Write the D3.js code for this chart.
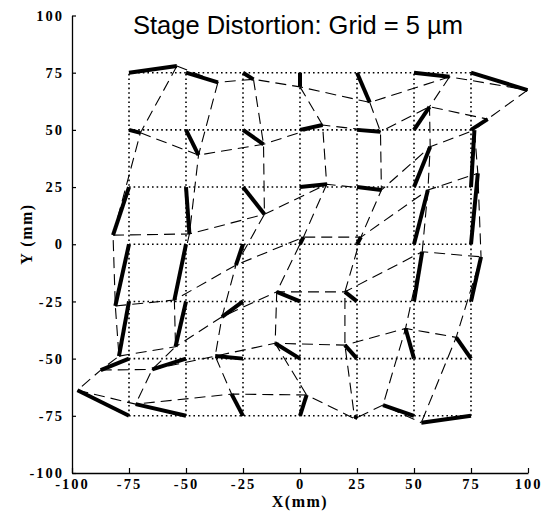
<!DOCTYPE html>
<html>
<head>
<meta charset="utf-8">
<script src="https://cdn.jsdelivr.net/npm/d3@7"></script>
<style>
  body { margin: 0; background: #fff; }
  .tick text { font-family: "Liberation Serif", "DejaVu Serif", serif; font-weight: bold; font-size: 14.5px; letter-spacing: 2px; }
</style>
</head>
<body>
<div id="chart"></div>
<script>
// nominal stage grid positions (mm)
const gridPos = [-75, -50, -25, 0, 25, 50, 75];
const tickValues = [-100, -75, -50, -25, 0, 25, 50, 75, 100];

// measured (magnified) positions, one row per nominal Y (75 down to -75), columns X = -75..75
const rowY = [75, 50, 25, 0, -25, -50, -75];
const dispX = [
  [-54, -36, -20.4, 0, 30.6, 65.6, 99.8],
  [-70, -44.5, -16, 9.9, 35.3, 56.8, 82.3],
  [-82, -48.5, -15.6, 11.7, 35.7, 57.1, 76.5],
  [-81, -55.1, -28.1, 1.5, 26.7, 56.1, 78],
  [-79.4, -54.6, -34.2, -10.2, 19.7, 53.6, 79.4],
  [-87.4, -64.8, -37.2, -10.9, 19.7, 46.3, 68.5],
  [-97.6, -72.1, -30, 2.9, 24, 36.4, 53.2]
];
const dispY = [
  [77.9, 70.8, 72.1, 68.8, 62, 73.2, 67.4],
  [48.7, 39, 43.7, 52.1, 49.2, 60.1, 54.7],
  [4, 4.5, 13.1, 26.2, 23.7, 42.6, 49.9],
  [-27, -24.4, -9.1, 3.1, 3.1, 23.7, 31],
  [-48.9, -44.8, -31.7, -20.8, -20.8, -3.3, -5.5],
  [-55, -54.7, -48.9, -43.3, -44.1, -36.8, -40.7],
  [-63.8, -69.9, -65.5, -65.9, -76.3, -70.3, -78]
];

const width = 546, height = 524;

const svg = d3.select("#chart")
    .append("svg")
    .attr("width", width)
    .attr("height", height);

const x = d3.scaleLinear().domain([-100, 100]).range([72, 528]);
const y = d3.scaleLinear().domain([-100, 100]).range([473, 15.5]);

// nominal grid (dotted)
const g0 = svg.append("g")
    .attr("stroke", "#000")
    .attr("stroke-width", 1.6)
    .attr("stroke-dasharray", "1.6,3");
g0.selectAll(".h").data(gridPos).join("line")
    .attr("x1", x(-75)).attr("x2", x(75))
    .attr("y1", d => y(d)).attr("y2", d => y(d));
g0.selectAll(".v").data(gridPos).join("line")
    .attr("y1", y(-75)).attr("y2", y(75))
    .attr("x1", d => x(d)).attr("x2", d => x(d));

// distorted grid (dashed), rows and columns through measured points
const line = d3.line().x(d => x(d[0])).y(d => y(d[1]));
const rows = dispX.map((r, i) => r.map((v, j) => [v, dispY[i][j]]));
const cols = gridPos.map((_, j) => rows.map(r => r[j]));

svg.append("g")
    .selectAll("path")
    .data(rows.concat(cols))
    .join("path")
    .attr("d", line)
    .attr("fill", "none")
    .attr("stroke", "#000")
    .attr("stroke-width", 1.1)
    .attr("stroke-dasharray", "11,6");

// error vectors: nominal point -> measured point
const vecs = [];
rowY.forEach((gy, i) => {
    gridPos.forEach((gx, j) => {
        vecs.push({ x0: gx, y0: gy, x1: dispX[i][j], y1: dispY[i][j] });
    });
});
svg.append("g")
    .selectAll("line")
    .data(vecs)
    .join("line")
    .attr("x1", d => x(d.x0)).attr("y1", d => y(d.y0))
    .attr("x2", d => x(d.x1)).attr("y2", d => y(d.y1))
    .attr("stroke", "#000")
    .attr("stroke-width", 4);

// axes
const fmt = d => String(d);
svg.append("g")
    .attr("transform", `translate(0,${y(-100)})`)
    .call(d3.axisBottom(x).tickValues(tickValues).tickFormat(fmt).tickSize(-5).tickSizeOuter(0).tickPadding(6));
svg.append("g")
    .attr("transform", `translate(${x(-100)},0)`)
    .call(d3.axisLeft(y).tickValues(tickValues).tickFormat(fmt).tickSize(-4).tickSizeOuter(0).tickPadding(8));
svg.selectAll(".domain").attr("stroke-width", 1.3);
svg.selectAll(".tick line").attr("stroke-width", 1.2);
svg.selectAll(".tick text").attr("fill", "#000");

svg.append("text")
    .attr("x", 300).attr("y", 507)
    .attr("text-anchor", "middle")
    .style("font-family", "'Liberation Serif', serif")
    .style("font-weight", "bold")
    .style("font-size", "16px")
    .style("letter-spacing", "1.5px")
    .text("X(mm)");

svg.append("text")
    .attr("transform", "translate(32,234) rotate(-90)")
    .attr("text-anchor", "middle")
    .style("font-family", "'Liberation Serif', serif")
    .style("font-weight", "bold")
    .style("font-size", "16px")
    .style("letter-spacing", "1.5px")
    .text("Y (mm)");

svg.append("text")
    .attr("x", 298).attr("y", 34)
    .attr("text-anchor", "middle")
    .style("font-family", "'Liberation Sans', Arial, sans-serif")
    .style("font-size", "25.5px")
    .text("Stage Distortion: Grid = 5 µm");
</script>
</body>
</html>
